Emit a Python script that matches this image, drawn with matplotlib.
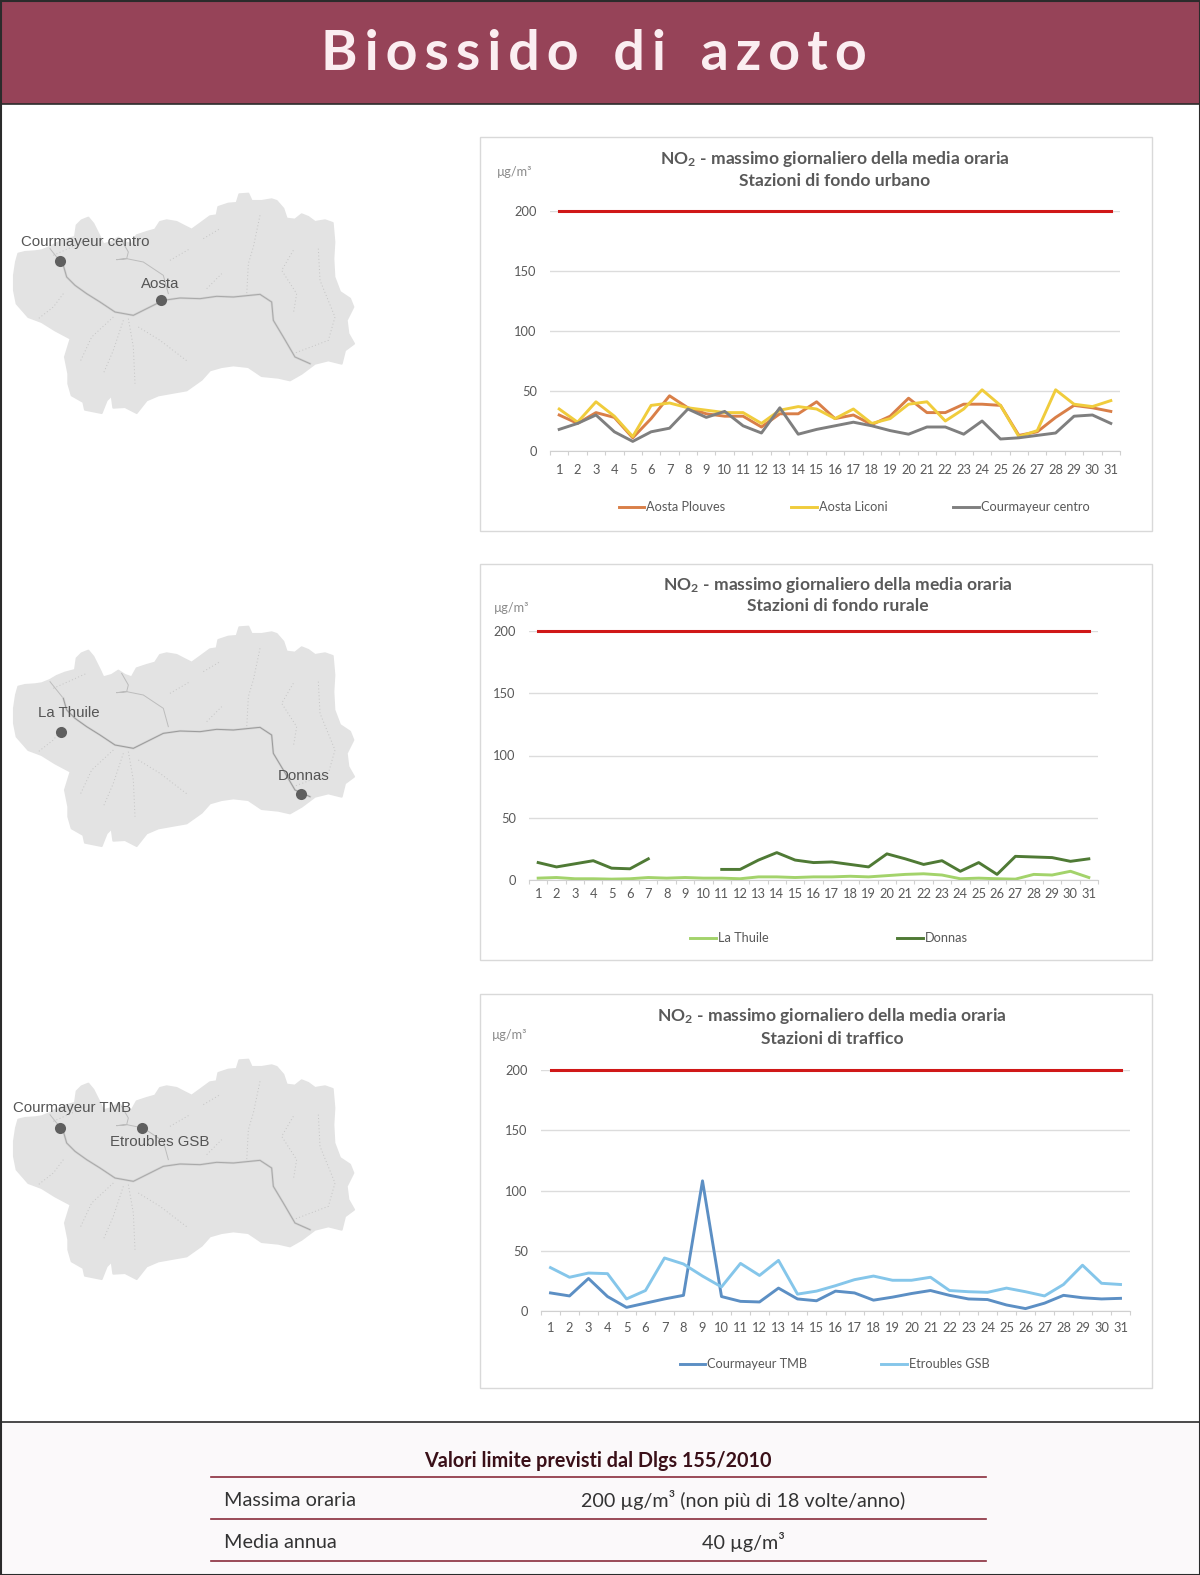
import matplotlib
matplotlib.use("Agg")
import matplotlib.pyplot as plt
from matplotlib.patches import Rectangle, Polygon

plt.rcParams['font.family'] = ['Lato', 'DejaVu Sans']
plt.rcParams['mathtext.default'] = 'regular'

W, H = 1200, 1575

days = list(range(1, 32))
limit = [200] * 31

plouves = [30, 23, 32, 28, 11, 27, 46, 36, 31, 29, 29, 20, 31, 31, 41, 27, 30, 22, 29, 44, 32, 32, 39, 39, 38, 13, 16, 28, 38, 36, 33]
liconi = [35, 24, 41, 29, 12, 38, 40, 36, 34, 32, 32, 23, 34, 37, 35, 27, 35, 23, 27, 39, 41, 25, 35, 51, 38, 12, 17, 51, 39, 37, 42]
courm_centro = [18, 23, 30, 16, 8, 16, 19, 35, 28, 33, 21, 15, 36, 14, 18, 21, 24, 21, 17, 14, 20, 20, 14, 25, 10, 11, 13, 15, 29, 30, 23]

la_thuile = [1.5, 2, 1, 1, 0.7, 1, 2, 1.5, 2, 1.5, 1.5, 1, 2.5, 2.5, 2, 2.5, 2.5, 3, 2.5, 3.5, 4.5, 5, 4, 1, 1.5, 1, 0.7, 4.5, 4, 7, 2]
nan = float('nan')
donnas = [14, 10.5, 13, 15.5, 9.5, 9, 17, nan, nan, nan, 8.5, 8.5, 16, 22, 16, 14, 14.5, 12.5, 10.5, 21, 17, 12.5, 15.5, 7, 14, 4.5, 19, 18.5, 18, 15, 17]

courm_tmb = [15, 12.5, 27, 12, 3, 6.5, 10, 13, 108, 12, 8, 7.5, 19, 10, 8.5, 16.5, 15, 9, 11.5, 14.5, 17, 13, 10, 9.5, 5, 2, 6.5, 13, 11, 10, 10.5]
etroubles = [36, 28, 31.5, 31, 10, 17, 44, 39, 29, 20, 39.5, 29.5, 42, 14, 16.5, 21, 26, 29, 25.5, 25.5, 28, 17, 16, 15.5, 19, 16, 12.5, 22, 38, 23, 22]

map_x = [42, 48, 55, 75, 105, 125, 150, 170, 195, 225, 230, 245, 265, 280, 290, 300, 310, 335, 355, 375, 395, 410, 440, 465, 480, 500, 530, 555, 575, 600, 630, 650, 655, 685, 710, 718, 745, 755, 785, 815, 830, 850, 860, 885, 905, 925, 945, 975, 998, 1003, 1000, 1003, 1020, 1050, 1060, 1040, 1045, 1062, 1035, 1025, 985, 945, 905, 870, 835, 785, 745, 700, 665, 630, 605, 560, 520, 475, 440, 410, 375, 340, 335, 320, 305, 255, 250, 215, 205, 205, 195, 212, 165, 125, 85, 50, 42]
map_y = [265, 225, 200, 195, 193, 190, 180, 168, 158, 150, 115, 100, 92, 110, 130, 150, 172, 165, 152, 165, 172, 145, 135, 128, 105, 100, 105, 118, 128, 110, 88, 85, 60, 50, 48, 22, 20, 42, 42, 37, 42, 65, 95, 98, 82, 90, 105, 100, 108, 165, 215, 270, 315, 335, 360, 400, 440, 470, 490, 530, 520, 530, 560, 580, 572, 567, 540, 535, 540, 550, 578, 610, 617, 625, 640, 678, 660, 662, 625, 640, 678, 668, 645, 625, 590, 560, 510, 455, 430, 405, 390, 350, 310]
river_x = [190, 200, 225, 260, 300, 345, 400, 440, 490, 540, 600, 650, 700, 780, 815, 820, 850, 885, 930]
river_y = [235, 270, 295, 320, 345, 375, 385, 365, 340, 333, 335, 328, 330, 322, 345, 400, 450, 510, 530]
creeks = [
    ([150, 190], [185, 235]),
    ([365, 385, 380, 350, 380, 430, 490, 505], [160, 195, 215, 218, 215, 225, 265, 320]),
]
branches = [
    ([385, 400, 405], [395, 480, 590]),
    ([370, 340, 310], [400, 490, 560]),
    ([340, 275, 240], [390, 450, 525]),
    ([415, 480, 565], [420, 460, 525]),
    ([190, 160, 115], [320, 360, 395]),
    ([780, 760, 745, 740], [85, 180, 230, 325]),
    ([880, 845, 890, 880], [190, 250, 320, 380]),
    ([955, 960, 1005, 985, 880], [185, 280, 390, 460, 500]),
    ([620, 665], [305, 260]),
    ([510, 570], [220, 185]),
    ([610, 660], [155, 125]),
    ([160, 260], [205, 160]),
]

charts = [
    dict(box=(480, 137, 1152, 531), plot=(550, 211, 1120, 451), title_x=835, title_y=(159, 181),
         sub="Stazioni di fondo urbano", unit=(515, 172), legend=(854, 507), spacing=5.15, xpad=9,
         series=[("Aosta Plouves", plouves, "#d97f48"), ("Aosta Liconi", liconi, "#f0cc3c"),
                 ("Courmayeur centro", courm_centro, "#7f7f7f")]),
    dict(box=(480, 564, 1152, 960), plot=(529, 631, 1098, 880), title_x=838, title_y=(585, 606),
         sub="Stazioni di fondo rurale", unit=(512, 608), legend=(829, 938), spacing=10.1, xpad=6,
         series=[("La Thuile", la_thuile, "#a3d36b"), ("Donnas", donnas, "#4f7a35")]),
    dict(box=(480, 994, 1152, 1388), plot=(541, 1070, 1130, 1311), title_x=832, title_y=(1016, 1039),
         sub="Stazioni di traffico", unit=(510, 1035), legend=(834.5, 1364), spacing=5.8, xpad=8,
         series=[("Courmayeur TMB", courm_tmb, "#5c8fc4"), ("Etroubles GSB", etroubles, "#85c6ea")]),
]

maps = [
    dict(dy=0, strong=False, labels=[("Courmayeur centro", 85, 242), ("Aosta", 160, 284)],
         dots=[(60, 261), (161, 300)]),
    dict(dy=433, strong=True, labels=[("La Thuile", 69, 713), ("Donnas", 304, 776)],
         dots=[(61, 732), (301, 794)]),
    dict(dy=866, strong=False, labels=[("Courmayeur TMB", 72, 1108), ("Etroubles GSB", 160, 1142)],
         dots=[(60, 1128), (142, 1128)]),
]

fig = plt.figure(figsize=(W / 100, H / 100), dpi=100, facecolor="white")
bg = fig.add_axes([0, 0, 1, 1])
bg.set_xlim(0, W)
bg.set_ylim(H, 0)
bg.axis("off")

# header and footer
bg.add_patch(Rectangle((0, 0), W, 104, fc="#964358", ec="#2b2b2b", lw=1.2))
title = "\u2002\u2009".join("\u2009".join(w) for w in ["Biossido", "di", "azoto"])
bg.text(594, 54, title, color="#fbeef1", fontsize=40, fontweight="bold", ha="center", va="center")

bg.add_patch(Rectangle((0, 1422), W, H - 1422, fc="#fbf9fa", ec="#2b2b2b", lw=1.2))
bg.add_patch(Rectangle((0.5, 0.5), W - 1, H - 1, fc="none", ec="#2b2b2b", lw=1.5))
bg.text(598, 1461, "Valori limite previsti dal Dlgs 155/2010", color="#3a1018", fontsize=14.2, fontweight="bold", ha="center", va="center")
for y in (1477, 1519, 1561):
    bg.plot([211, 986], [y, y], color="#8a2c3c", lw=1.2)
bg.text(224, 1500, "Massima oraria", color="#333333", fontsize=14.3, va="center")
bg.text(743, 1500, "200 µg/m³ (non più di 18 volte/anno)", color="#333333", fontsize=14.2, ha="center", va="center")
bg.text(224, 1542, "Media annua", color="#333333", fontsize=14.3, va="center")
bg.text(743, 1542, "40 µg/m³", color="#333333", fontsize=14.2, ha="center", va="center")

# maps
for m in maps:
    off = 187 + m["dy"]
    pts = [(x / 3, y / 3 + off) for x, y in zip(map_x, map_y)]
    bg.add_patch(Polygon(pts, closed=True, fc="#e3e3e3", ec="#e3e3e3", lw=1.5, joinstyle="round"))
    for bx, by in branches:
        bg.plot([x / 3 for x in bx], [y / 3 + off for y in by], color="#c4c4c4", lw=0.7, ls=(0, (1, 2.5)))
    for bx, by in creeks:
        bg.plot([x / 3 for x in bx], [y / 3 + off for y in by], color="#bcbcbc", lw=0.7)
    bg.plot([x / 3 for x in river_x], [y / 3 + off for y in river_y], color="#d2d2d2", lw=1.6)
    bg.plot([x / 3 for x in river_x], [y / 3 + off for y in river_y],
            color="#9a9a9a" if m["strong"] else "#a8a8a8", lw=0.7)
    for name, x, y in m["labels"]:
        bg.text(x, y, name, family="Liberation Sans", fontsize=10.8, color="#555555", ha="center", va="center")
    for x, y in m["dots"]:
        bg.plot([x], [y], "o", ms=8, color="#5f5f5f", mec="none")

# charts
for c in charts:
    x0, y0, x1, y1 = c["box"]
    bg.add_patch(Rectangle((x0, y0), x1 - x0, y1 - y0, fc="white", ec="#d9d9d9", lw=1))
    bg.text(c["title_x"], c["title_y"][0], "NO$_2$ - massimo giornaliero della media oraria", fontsize=12.6,
            fontweight="bold", color="#595959", ha="center", va="center")
    bg.text(c["title_x"], c["title_y"][1], c["sub"], fontsize=12.6, fontweight="bold", color="#595959",
            ha="center", va="center")
    bg.text(c["unit"][0], c["unit"][1], "µg/m³", fontsize=9.2, color="#8a8a8a", ha="center", va="center")

    px0, py0, px1, py1 = c["plot"]
    ax = fig.add_axes([px0 / W, 1 - py1 / H, (px1 - px0) / W, (py1 - py0) / H])
    ax.patch.set_alpha(0)
    ax.set_xlim(0.5, 31.5)
    ax.set_ylim(0, 200)
    ax.set_yticks([0, 50, 100, 150, 200])
    ax.set_xticks(days)
    ax.set_xticks([d + 0.5 for d in range(0, 32)], minor=True)
    ax.tick_params(axis="x", which="major", length=0, labelsize=9.3, labelcolor="#595959", pad=c["xpad"])
    ax.tick_params(axis="x", which="minor", length=3, color="#d0d0d0", width=0.8)
    ax.tick_params(axis="y", length=0, labelsize=9.3, labelcolor="#595959", pad=9.5)
    ax.grid(axis="y", color="#dcdcdc", lw=1)
    ax.set_axisbelow(True)
    for side in ("top", "right", "left"):
        ax.spines[side].set_visible(False)
    ax.spines["bottom"].set_color("#d0d0d0")

    ax.plot(days, limit, color="#d01818", lw=2.2, clip_on=False, label="_nolegend_")
    for name, vals, col in c["series"]:
        ax.plot(days, vals, color=col, lw=2.1, label=name, clip_on=False)
    ax.legend(loc="center", bbox_to_anchor=(c["legend"][0] / W, 1 - c["legend"][1] / H),
              bbox_transform=fig.transFigure, ncol=len(c["series"]), frameon=False, fontsize=9.2,
              labelcolor="#595959", handlelength=2.0, handletextpad=0.15, columnspacing=c["spacing"],
              borderpad=0, borderaxespad=0)

fig.savefig("out.png", dpi=100)
